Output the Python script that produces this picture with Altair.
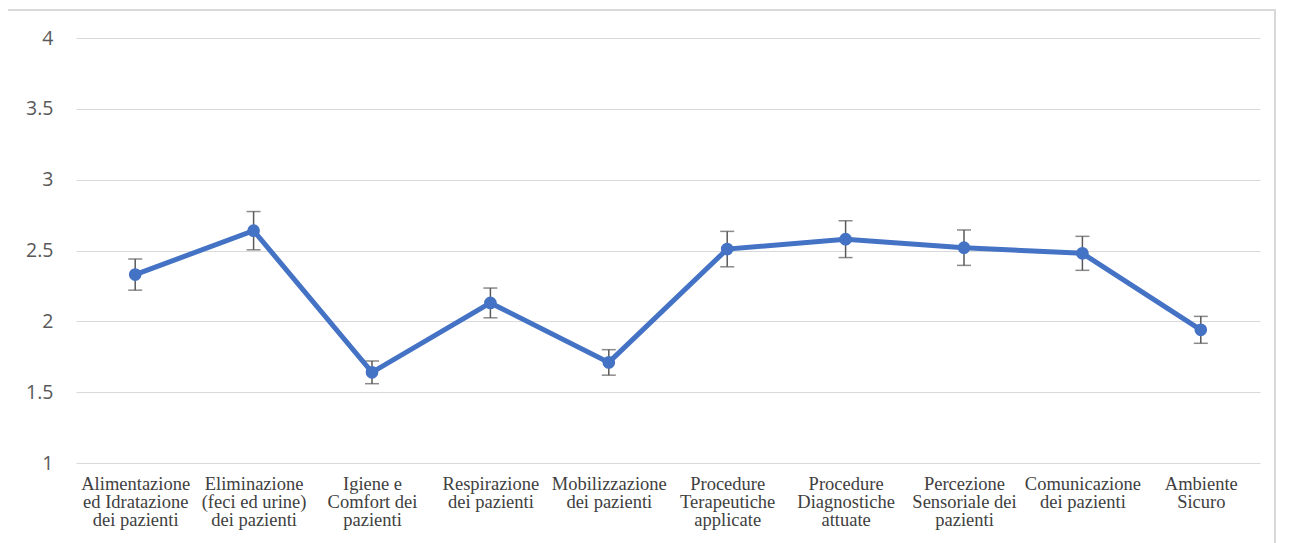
import altair as alt
import pandas as pd

categories = [
    "Alimentazione\ned Idratazione\ndei pazienti",
    "Eliminazione\n(feci ed urine)\ndei pazienti",
    "Igiene e\nComfort dei\npazienti",
    "Respirazione\ndei pazienti",
    "Mobilizzazione\ndei pazienti",
    "Procedure\nTerapeutiche\napplicate",
    "Procedure\nDiagnostiche\nattuate",
    "Percezione\nSensoriale dei\npazienti",
    "Comunicazione\ndei pazienti",
    "Ambiente\nSicuro",
]
means = [2.33, 2.64, 1.64, 2.13, 1.71, 2.51, 2.58, 2.52, 2.48, 1.94]
errors = [0.11, 0.135, 0.08, 0.105, 0.09, 0.125, 0.13, 0.125, 0.12, 0.095]
y_ticks = [1, 1.5, 2, 2.5, 3, 3.5, 4]

df = pd.DataFrame({
    "cat": categories,
    "mean": means,
    "low": [m - e for m, e in zip(means, errors)],
    "high": [m + e for m, e in zip(means, errors)],
})

x_enc = alt.X(
    "cat:N",
    sort=categories,
    title=None,
    scale=alt.Scale(type="point", padding=0.5),
    axis=alt.Axis(
        labelAngle=0,
        labelExpr="split(datum.label, '\\n')",
        labelFont="Liberation Serif",
        labelFontSize=18.5,
        labelLineHeight=18,
        labelColor="#404040",
        labelPadding=11,
        labelBaseline="top",
        labelLimit=200,
        ticks=False,
        domain=False,
        grid=False,
    ),
)
y_scale = alt.Scale(domain=[1, 4], nice=False, zero=False)
y_axis = alt.Axis(
    values=y_ticks,
    format="~g",
    labelFont="Open Sans",
    labelFontSize=19.5,
    labelColor="#595959",
    labelPadding=23,
    ticks=False,
    domain=False,
    grid=True,
    gridColor="#d9d9d9",
    gridWidth=1.2,
)

base = alt.Chart(df)

border = base.mark_rect(fill=None, stroke="#d9d9d9", strokeWidth=1.2).encode(
    x=alt.value(-69), x2=alt.value(1199), y=alt.value(-28), y2=alt.value(540)
)

rules = base.mark_rule(color="#595959", strokeWidth=1.5).encode(
    x=x_enc,
    y=alt.Y("low:Q", scale=y_scale, axis=y_axis, title=None),
    y2="high:Q",
)
caps_low = base.mark_tick(color="#595959", thickness=1.5, size=14, orient="horizontal").encode(
    x=x_enc, y=alt.Y("low:Q", scale=y_scale, axis=y_axis, title=None)
)
caps_high = base.mark_tick(color="#595959", thickness=1.5, size=14, orient="horizontal").encode(
    x=x_enc, y=alt.Y("high:Q", scale=y_scale, axis=y_axis, title=None)
)
line = base.mark_line(color="#4472C4", strokeWidth=5).encode(
    x=x_enc, y=alt.Y("mean:Q", scale=y_scale, axis=y_axis, title=None)
)
points = base.mark_point(color="#4472C4", filled=True, opacity=1, size=160).encode(
    x=x_enc, y=alt.Y("mean:Q", scale=y_scale, axis=y_axis, title=None)
)

chart = alt.layer(border, rules, caps_low, caps_high, line, points).properties(
    width=1184,
    height=425,
    autosize=alt.AutoSizeParams(type="none"),
    padding={"left": 68, "top": 30, "right": 20, "bottom": 80},
).configure_view(stroke=None)

chart.save("out.html", embed_options={"renderer": "svg", "actions": False})
